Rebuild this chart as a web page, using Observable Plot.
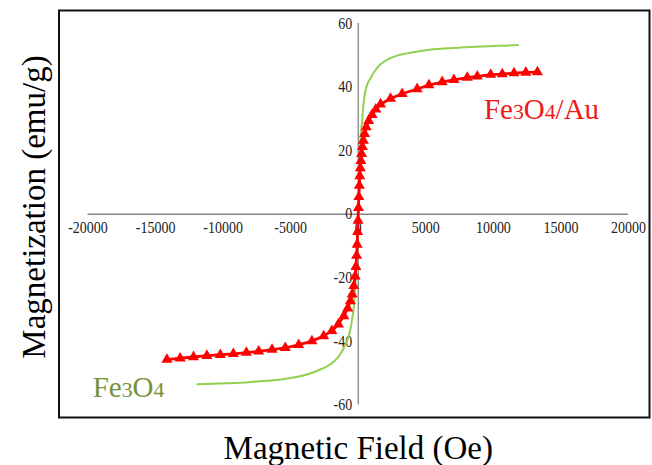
<!DOCTYPE html>
<html><head><meta charset="utf-8">
<script src="https://cdn.jsdelivr.net/npm/d3@7"></script>
<script src="https://cdn.jsdelivr.net/npm/@observablehq/plot@0.6"></script>
<style>body{margin:0;background:#fff}</style>
</head><body><div id="chart"></div>
<script>
// Fe3O4 (green line)
const fieldFe3O4 = [-11900,-10300,-8700,-7500,-6260,-5000,-3790,-2900,-2060,-1500,-1190,-900,-650,-450,-300,-150,0,150,300,420,600,900,1250,1650,2200,2880,3600,4360,5400,6580,7800,9050,10400,11820];
const magFe3O4 = [-53.5,-53.2,-53.0,-52.6,-52.2,-51.5,-50.4,-49.0,-47.2,-45.0,-43.0,-40.5,-37.5,-33.0,-28.0,-17.0,0,22.0,30.0,36.0,40.0,42.7,45.2,47.2,48.7,49.9,50.6,51.2,51.8,52.2,52.5,52.8,53.0,53.2];
// Fe3O4/Au (red triangles)
const fieldFe3O4Au = [-14160,-13180,-12190,-11200,-10210,-9240,-8280,-7370,-6380,-5400,-4410,-3430,-2560,-1950,-1470,-1070,-780,-580,-450,-330,-230,-170,-120,-80,-45,-15,15,45,80,115,155,200,250,310,380,470,590,770,1020,1300,1650,2390,3250,4360,5230,6210,7080,8070,8810,9800,10660,11530,12400,13260];
const magFe3O4Au = [-45.7,-45.3,-44.9,-44.5,-44.2,-43.9,-43.5,-43.1,-42.6,-42.0,-41.1,-39.9,-38.3,-36.7,-34.6,-32.0,-29.6,-27.3,-25.2,-22.5,-19.5,-16.5,-13.0,-9.5,-5.5,-2.0,2.0,5.5,9.0,12.0,14.5,16.8,19.0,21.2,23.2,25.3,27.4,29.4,31.3,33.0,34.6,36.4,37.9,39.4,40.6,41.6,42.3,43.0,43.4,43.9,44.1,44.4,44.6,44.7];

const xTicks = [-20000,-15000,-10000,-5000,0,5000,10000,15000,20000];
const yTicks = [-60,-40,-20,0,20,40,60];
const xTitle = "Magnetic Field (Oe)";
const yTitle = "Magnetization (emu/g)";
const seriesNames = ["Fe3O4/Au", "Fe3O4"];
const seriesLabelX = [9300, -19650];
const seriesLabelY = [30.0, -57.6];

const fe = fieldFe3O4.map((x, i) => ({x, y: magFe3O4[i]}));
const au = fieldFe3O4Au.map((x, i) => ({x, y: magFe3O4Au[i]}));
const labels = seriesNames.map((name, i) => ({name, x: seriesLabelX[i], y: seriesLabelY[i]}));

const chart = Plot.plot({
  width: 652,
  height: 465,
  marginLeft: 58.5,
  marginRight: 3,
  marginTop: 10,
  marginBottom: 48,
  style: {fontFamily: "'Liberation Serif', 'Times New Roman', serif", background: "#fff"},
  x: {domain: d3.extent(xTicks), insetLeft: 29, insetRight: 21, axis: null},
  y: {domain: d3.extent(yTicks), insetTop: 13, insetBottom: 12.5, axis: null},
  marks: [
    Plot.frame({stroke: "#111", strokeWidth: 2}),
    Plot.ruleY([0], {x1: d3.min(xTicks), x2: d3.max(xTicks), stroke: "#858585", strokeWidth: 1.3}),
    Plot.ruleX([0], {y1: d3.min(yTicks), y2: d3.max(yTicks), stroke: "#858585", strokeWidth: 1.3}),
    Plot.text(xTicks, {x: d => d, y: 0, text: d => String(d), dy: 13.5, fontSize: 14, fill: "#222"}),
    Plot.text(yTicks, {x: 0, y: d => d, text: d => String(d), textAnchor: "end", dx: -6, fontSize: 14, fill: "#222"}),
    Plot.line(fe, {x: "x", y: "y", stroke: "#92d050", strokeWidth: 2, curve: "monotone-x"}),
    Plot.line(au, {x: "x", y: "y", stroke: "#ff0000", strokeWidth: 2.8}),
    Plot.dot(au, {x: "x", y: "y", symbol: "triangle", r: 4.1, fill: "#ff0000", stroke: "none"}),
    Plot.text(labels, {x: "x", y: "y", text: "name", textAnchor: "start", lineAnchor: "bottom", fontSize: 29,
      fill: (d) => d.name === "Fe3O4" ? "#76923c" : "#f01818"}),
    Plot.text([xTitle], {text: d => d, frameAnchor: "bottom", textAnchor: "middle", dx: 4, dy: 41, lineAnchor: "bottom", fontSize: 33, fill: "#000"}),
    Plot.text([yTitle], {text: d => d, frameAnchor: "left", textAnchor: "middle", dx: -14.5, dy: -7, rotate: -90, lineAnchor: "bottom", fontSize: 33, fill: "#000"})
  ]
});

const ns = "http://www.w3.org/2000/svg";
chart.querySelectorAll("text").forEach(t => {
  const s = t.textContent;
  // tick labels: slightly taller glyphs, as in the reference
  if (/^-?\d+$/.test(s)) {
    const tr = t.getAttribute("transform");
    if (tr) t.setAttribute("transform", tr + " scale(1,1.15)");
  }
  // chemical formula digits smaller, on the baseline
  if (/^Fe\d/.test(s)) {
    t.textContent = "";
    s.split(/(\d)/).forEach(part => {
      if (!part) return;
      const ts = document.createElementNS(ns, "tspan");
      ts.textContent = part;
      if (/\d/.test(part)) ts.setAttribute("font-size", "0.75em");
      t.appendChild(ts);
    });
  }
});

document.getElementById("chart").appendChild(chart);
</script>
</body></html>
